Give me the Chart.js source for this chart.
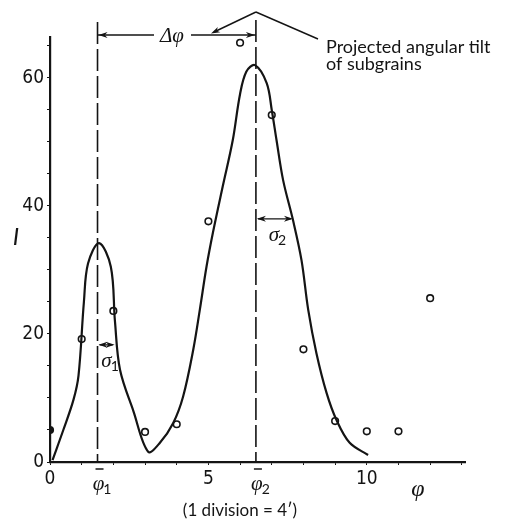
<!DOCTYPE html>
<html>
<head>
<meta charset="utf-8">
<script src="https://cdn.jsdelivr.net/npm/chart.js@4"></script>
<style>
html, body { margin: 0; padding: 0; background: #fff; }
#wrap { width: 508px; height: 521px; position: relative; }
</style>
</head>
<body>
<div id="wrap"><canvas id="chart"></canvas></div>
<script>
// measured intensities I against phi (1 division = 4')
const phiPoints = [0, 1, 2, 3, 4, 5, 6, 7, 8, 9, 10, 11, 12];
const intensity = [5, 19.2, 23.6, 4.7, 5.9, 37.6, 65.5, 54.2, 17.6, 6.4, 4.8, 4.8, 25.6];

// fitted double peak
const curvePhi = [0.08, 0.42, 0.74, 0.9, 1.07, 1.2, 1.55, 1.92, 2.05, 2.21, 2.63, 3.1, 3.47, 3.89, 4.2, 4.52,
  4.73, 4.94, 5.15, 5.45, 5.77, 6.0, 6.2, 6.47, 6.84, 7.0, 7.15, 7.36, 7.67, 7.94, 8.15, 8.41, 8.73, 9.04, 9.46, 10.04];
const curveI = [0.3, 5, 9.7, 13.5, 25, 31, 34.2, 30.5, 22, 14.4, 8, 1.6, 3, 6.1, 10.2, 17.5,
  23.8, 30.5, 36, 43, 50.3, 57.5, 61, 62, 59.2, 55, 50.3, 44, 37.8, 31.5, 23.8, 17, 10.8, 6.6, 3, 1.1];

// peak positions and widths
const phiMean1 = 1.5, phiMean2 = 6.5;
const sigma1 = 0.54, sigma2 = 1.17;

const yTickLabels = [0, 20, 40, 60];
const xTickLabels = [0, 5, 10];

const ink = '#141414';
const numFont = '"Liberation Sans Narrow", "DejaVu Sans Condensed", sans-serif';
const textFont = 'Lato, "Open Sans", sans-serif';
const greekFont = '"Liberation Serif", "DejaVu Serif", serif';

function arrowHead(ctx, x, y, dx, dy) {
  // slender filled head, tip at (x,y), pointing along (dx,dy)
  const len = 9, half = 3;
  const n = Math.hypot(dx, dy), ux = dx / n, uy = dy / n;
  ctx.beginPath();
  ctx.moveTo(x, y);
  ctx.lineTo(x - ux * len - uy * half, y - uy * len + ux * half);
  ctx.lineTo(x - ux * len * 0.7, y - uy * len * 0.7);
  ctx.lineTo(x - ux * len + uy * half, y - uy * len - ux * half);
  ctx.closePath();
  ctx.fill();
}

function seg(ctx, x1, y1, x2, y2) {
  ctx.beginPath();
  ctx.moveTo(x1, y1);
  ctx.lineTo(x2, y2);
  ctx.stroke();
}

function greekSub(ctx, sym, sub, x, y, bar) {
  ctx.font = 'italic 21px ' + greekFont;
  ctx.textAlign = 'center';
  ctx.textBaseline = 'alphabetic';
  const w = ctx.measureText(sym).width;
  ctx.fillText(sym, x, y);
  ctx.font = '14px ' + textFont;
  ctx.textAlign = 'left';
  ctx.fillText(sub, x + w / 2 - 1, y + 4);
  if (bar) {
    ctx.lineWidth = 1.5;
    seg(ctx, x - 3, y - 21, x + 5, y - 21);
  }
}

const annotations = {
  id: 'annotations',
  afterDraw(chart) {
    const { ctx, chartArea: a, scales: { x, y } } = chart;
    const p1 = x.getPixelForValue(phiMean1);
    const p2 = x.getPixelForValue(phiMean2);
    ctx.save();
    ctx.strokeStyle = ink;
    ctx.fillStyle = ink;

    // dashed lines at the two mean positions
    ctx.lineWidth = 1.6;
    ctx.setLineDash([22, 5]);
    seg(ctx, p1, a.top - 15, p1, a.bottom);
    seg(ctx, p2, a.top - 17, p2, a.bottom);
    ctx.setLineDash([]);

    // delta phi spacing arrow
    const ya = a.top - 2;
    ctx.lineWidth = 1.4;
    seg(ctx, p1, ya, 154, ya);
    seg(ctx, 191, ya, p2, ya);
    arrowHead(ctx, p1 + 1, ya, -1, 0);
    arrowHead(ctx, p2 - 1, ya, 1, 0);
    ctx.font = 'italic 21px ' + greekFont;
    ctx.textAlign = 'center';
    ctx.textBaseline = 'middle';
    ctx.fillText('\u0394\u03c6', 172, ya + 1);

    // pointer to the label
    const apexX = p2, apexY = 12;
    seg(ctx, apexX, apexY, 214, 32);
    arrowHead(ctx, 211, 33.5, 211 - apexX, 33.5 - apexY);
    seg(ctx, apexX, apexY, 318, 39);
    ctx.font = '18px ' + textFont;
    ctx.textAlign = 'left';
    ctx.textBaseline = 'alphabetic';
    ctx.fillText('Projected angular tilt', 326, 53);
    ctx.fillText('of subgrains', 326, 70);

    // sigma width arrows
    const ys1 = y.getPixelForValue(18.3);
    const s1 = x.getPixelForValue(phiMean1 + sigma1);
    ctx.lineWidth = 1.3;
    seg(ctx, p1 + 2, ys1, s1 - 2, ys1);
    arrowHead(ctx, p1 + 1, ys1, -1, 0);
    arrowHead(ctx, s1, ys1, 1, 0);
    greekSub(ctx, '\u03c3', '1', p1 + 9, ys1 + 22, false);

    const ys2 = y.getPixelForValue(38);
    const s2 = x.getPixelForValue(phiMean2 + sigma2);
    seg(ctx, p2 + 2, ys2, s2 - 2, ys2);
    arrowHead(ctx, p2 + 1, ys2, -1, 0);
    arrowHead(ctx, s2, ys2, 1, 0);
    greekSub(ctx, '\u03c3', '2', p2 + 18, ys2 + 22, false);

    // mean labels below the axis
    greekSub(ctx, '\u03c6', '1', p1 + 1, a.bottom + 28, true);
    greekSub(ctx, '\u03c6', '2', p2 + 1, a.bottom + 28, true);

    // axis titles
    ctx.font = 'italic 24px ' + textFont;
    ctx.textAlign = 'center';
    ctx.textBaseline = 'middle';
    ctx.fillText('I', 16, 237);
    ctx.font = 'italic 24px ' + greekFont;
    ctx.fillText('\u03c6', 418, 490);

    ctx.font = '17px ' + textFont;
    ctx.fillText('(1 division = 4\u2032)', 240, 511);
    ctx.restore();
  }
};

const ctx = document.getElementById('chart').getContext('2d');
new Chart(ctx, {
  type: 'scatter',
  data: {
    datasets: [
      {
        type: 'line',
        data: curvePhi.map((v, i) => ({ x: v, y: curveI[i] })),
        borderColor: ink,
        borderWidth: 2.2,
        pointRadius: 0,
        tension: 0.35,
        fill: false
      },
      {
        data: phiPoints.map((v, i) => ({ x: v, y: intensity[i] })),
        pointRadius: 3.3,
        pointBorderWidth: 1.6,
        pointBorderColor: ink,
        pointBackgroundColor: c => (c.dataIndex === 0 ? ink : '#fff')
      }
    ]
  },
  options: {
    responsive: true,
    maintainAspectRatio: false,
    animation: false,
    layout: { padding: { top: 37, right: 43, left: 0, bottom: 0 } },
    plugins: { legend: { display: false }, tooltip: { enabled: false } },
    scales: {
      x: {
        type: 'linear',
        min: 0,
        max: 13.1,
        afterFit: s => { s.height = 59; },
        grid: { drawOnChartArea: false, tickLength: 3, color: ink },
        border: { color: ink, width: 2.2 },
        ticks: {
          stepSize: 1,
          includeBounds: false,
          autoSkip: false,
          maxRotation: 0,
          padding: 3,
          color: ink,
          font: { family: numFont, size: 19 },
          callback: v => (xTickLabels.includes(v) ? String(v) : '')
        }
      },
      y: {
        min: 0,
        max: 66.4,
        afterFit: s => { s.width = 50; },
        grid: { drawOnChartArea: false, tickLength: 3, color: ink },
        border: { color: ink, width: 2.2 },
        ticks: {
          stepSize: 5,
          includeBounds: false,
          padding: 3,
          color: ink,
          font: { family: numFont, size: 19 },
          callback: v => (yTickLabels.includes(v) ? String(v) : '')
        }
      }
    }
  },
  plugins: [annotations]
});
</script>
</body>
</html>
